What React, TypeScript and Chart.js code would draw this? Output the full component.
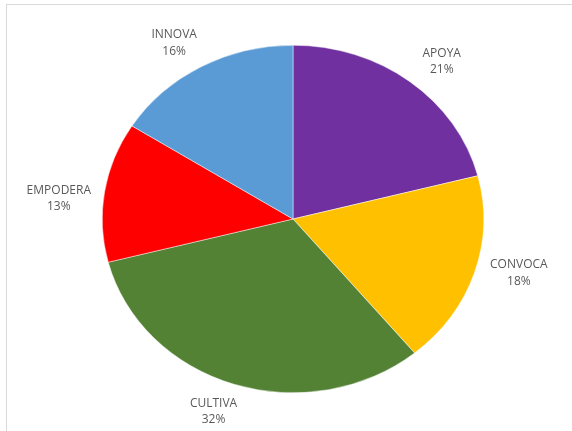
import React, { useEffect, useRef } from "react";
import { Chart, registerables } from "chart.js";

Chart.register(...registerables);

const categories = ["APOYA", "CONVOCA", "CULTIVA", "EMPODERA", "INNOVA"];
const values = [21, 18, 32, 13, 16];
const colors = ["#7030A0", "#FFC000", "#548235", "#FF0000", "#5B9BD5"];

const Y_SCALE = 174 / 191;
const LABEL_AX = 228;
const LABEL_BX = 9;
const LABEL_AY = 216;
const LABEL_BY = -13;

const sgn = (v: number) => (Math.abs(v) < 1e-6 ? 0 : v > 0 ? 1 : -1);

const ellipsePlugin = {
  id: "ellipse",
  beforeDraw(chart: any) {
    const ctx = chart.ctx;
    ctx.save();
    ctx.fillStyle = "#ffffff";
    ctx.fillRect(0, 0, chart.width, chart.height);
    ctx.strokeStyle = "#d9d9d9";
    ctx.lineWidth = 1;
    ctx.strokeRect(6.5, 4.5, chart.width + 20, chart.height + 20);
    ctx.restore();
  },
  beforeDatasetsDraw(chart: any) {
    const ctx = chart.ctx;
    const a = chart.chartArea;
    const cx = (a.left + a.right) / 2;
    const cy = (a.top + a.bottom) / 2;
    ctx.save();
    ctx.translate(cx, cy);
    ctx.scale(1, Y_SCALE);
    ctx.translate(-cx, -cy);
  },
  afterDatasetsDraw(chart: any) {
    chart.ctx.restore();
  },
  afterDraw(chart: any) {
    const ctx = chart.ctx;
    const meta = chart.getDatasetMeta(0);
    const data = chart.data.datasets[0].data as number[];
    const total = data.reduce((s, v) => s + v, 0);
    const a = chart.chartArea;
    const cx = (a.left + a.right) / 2;
    const cy = (a.top + a.bottom) / 2;
    ctx.save();
    ctx.fillStyle = "#595959";
    ctx.font = "12px 'Open Sans'";
    ctx.textAlign = "center";
    ctx.textBaseline = "middle";
    meta.data.forEach((arc: any, i: number) => {
      const mid = (arc.startAngle + arc.endAngle) / 2;
      const dx = Math.cos(mid);
      const dy = Math.sin(mid);
      const x = cx + dx * LABEL_AX + sgn(dx) * LABEL_BX;
      const y = cy + dy * LABEL_AY + sgn(dy) * LABEL_BY;
      ctx.fillText(String(chart.data.labels[i]), x, y - 8);
      ctx.fillText(Math.round((data[i] / total) * 100) + "%", x, y + 8.5);
    });
    ctx.restore();
  },
};

export default function App() {
  const ref = useRef<HTMLCanvasElement>(null);
  useEffect(() => {
    if (!ref.current) return;
    const chart = new Chart(ref.current, {
      type: "pie",
      data: {
        labels: categories,
        datasets: [
          {
            data: values,
            backgroundColor: colors,
            borderColor: "#ffffff",
            borderWidth: 0.5,
          },
        ],
      },
      options: {
        responsive: false,
        animation: false,
        layout: { padding: { left: 102, right: 88, top: 28, bottom: 21 } },
        plugins: {
          legend: { display: false },
          tooltip: { enabled: false },
        },
      },
      plugins: [ellipsePlugin],
    });
    return () => chart.destroy();
  }, []);
  return (
    <div style={{ position: "fixed", left: 0, top: 0, width: 572, height: 431 }}>
      <canvas ref={ref} width={572} height={431} style={{ display: "block" }} />
    </div>
  );
}
